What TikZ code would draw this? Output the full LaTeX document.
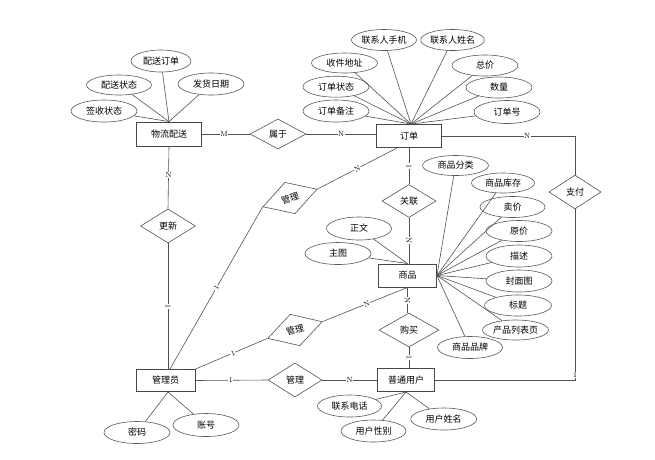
\documentclass[tikz,border=0pt]{standalone}
\usepackage{fontspec}
\newfontfamily\cjk{Noto Sans CJK SC}
\usetikzlibrary{shapes.geometric,calc}
\begin{document}
\begin{tikzpicture}[x=1pt,y=-1pt,
  every node/.style={font=\cjk\fontsize{9}{10}\selectfont, text=black},
  ent/.style={draw=black!72, line width=0.9pt, rectangle, minimum width=62, minimum height=23, inner sep=0, fill=white},
  rel/.style={draw=black!68, line width=0.6pt, diamond, minimum width=55, minimum height=33, inner sep=0, fill=white},
  attr/.style={draw=black!65, line width=0.6pt, ellipse, minimum width=66, minimum height=21, inner sep=0, fill=white},
  ln/.style={draw=black!68, line width=0.6pt},
  card/.style={font=\fontsize{7.5}{7.5}\selectfont, fill=white, inner sep=0.6pt, text=black}
]
\useasboundingbox (0,0) rectangle (655,459);

% entities
\node[ent, minimum width=65, minimum height=24] (wl) at (169,134) {物流配送};
\node[ent, minimum width=65] (dd) at (409,136) {订单};
\node[ent, minimum width=58] (sp) at (407.5,275.5) {商品};
\node[ent, minimum width=59, minimum height=22] (gly) at (165.5,380.5) {管理员};
\node[ent, minimum width=57] (yh) at (406,380) {普通用户};

% relationships
\node[rel, minimum width=56, minimum height=30] (sy) at (278,134) {属于};
\node[rel, minimum width=54] (gl) at (409,201) {关联};
\node[rel, minimum width=60, minimum height=34] (gm) at (409,330) {购买};
\node[rel, minimum height=34] (gx) at (168,226) {更新};
\node[rel, minimum width=57, rotate=18] (gla) at (290,198) {管理};
\node[rel, minimum width=57, rotate=17] (glb) at (295,330) {管理};
\node[rel, minimum width=54, minimum height=34] (glc) at (295,380) {管理};
\node[rel, minimum width=52, minimum height=34] (zf) at (575,192) {支付};

% attributes of 物流配送
\node[attr, minimum width=60, minimum height=22] (a1) at (161,61) {配送订单};
\node[attr, minimum width=65, minimum height=20] (a2) at (119,85) {配送状态};
\node[attr, minimum height=22] (a3) at (211,84) {发货日期};
\node[attr, minimum height=22] (a4) at (104,111) {签收状态};
\foreach \a in {a1,a2,a3,a4} \draw[ln] (\a) -- (wl.north);

% attributes of 订单
\coordinate (ddtop) at ([xshift=2]dd.north);
\node[attr, minimum width=65] (b1) at (384,40) {联系人手机};
\node[attr, minimum width=62] (b2) at (452.5,40) {联系人姓名};
\node[attr, minimum height=20] (b3) at (344.5,63) {收件地址};
\node[attr] (b4) at (485,65.5) {总价};
\node[attr] (b5) at (336,86.7) {订单状态};
\node[attr] (b6) at (499,87.5) {数量};
\node[attr, minimum height=22] (b7) at (336,111) {订单备注};
\node[attr, minimum height=23] (b8) at (507,112) {订单号};
\foreach \a in {b1,b2,b3,b4,b5,b6,b7,b8} \draw[ln] (\a) -- (ddtop);

% attributes of 商品
\node[attr, minimum height=20] (c1) at (455.5,165.5) {商品分类};
\node[attr, minimum width=63, minimum height=20] (c2) at (503,183) {商品库存};
\node[attr, minimum width=65] (c3) at (512.5,207) {卖价};
\node[attr] (c4) at (519,231) {原价};
\node[attr, minimum height=22] (c5) at (519,256) {描述};
\node[attr, minimum height=22] (c6) at (519,281) {封面图};
\node[attr, minimum width=67] (c7) at (518,305.5) {标题};
\node[attr, minimum height=20] (c8) at (515.5,330) {产品列表页};
\node[attr, minimum width=65, minimum height=22] (c9) at (470,347.5) {商品品牌};
\foreach \a in {c1,c2,c3,c4,c5,c6,c7,c8,c9} \draw[ln] (\a) -- (sp.east);
\node[attr, minimum width=65, minimum height=23] (c10) at (359,228.5) {正文};
\node[attr, minimum height=22] (c11) at (338,253.5) {主图};
\foreach \a in {c10,c11} \draw[ln] (\a) -- (sp.north);

% attributes of 普通用户
\node[attr, minimum width=64, minimum height=22] (d1) at (349.5,406) {联系电话};
\node[attr, minimum width=65, minimum height=22] (d2) at (373.5,431) {用户性别};
\node[attr, minimum height=22] (d3) at (443.7,419) {用户姓名};
\foreach \a in {d1,d2,d3} \draw[ln] (\a) -- (yh.south);

% attributes of 管理员
\coordinate (glybot) at ([xshift=2.5]gly.south);
\node[attr, minimum height=22] (e1) at (137,432.5) {密码};
\node[attr, minimum height=23] (e2) at (206,425) {账号};
\foreach \a in {e1,e2} \draw[ln] (\a) -- (glybot);

% connectors with cardinalities
\draw[ln] (wl.east) -- node[card, pos=0.46]{M} (sy.west);
\draw[ln] (sy.east) -- node[card]{N} (sy.east -| dd.west);
\draw[ln] (wl.south) -- node[card, pos=0.46]{N} (gx.north);
\draw[ln] (gx.south) -- node[card, sloped]{1} (gx.south |- gly.north);
\draw[ln] (dd.south) -- node[card, sloped]{1} (gl.north);
\draw[ln] (gl.south) -- node[card, sloped]{N} (gl.south |- sp.north);
\draw[ln] (sp.south) -- node[card, sloped]{N} (sp.south |- gm.north);
\draw[ln] (gm.south) -- node[card, sloped]{1} (gm.south |- yh.north);
\draw[ln] ([xshift=4.5]gly.north) -- node[card, sloped]{1} (gla.west);
\draw[ln] (gla.east) -- node[card, sloped]{N} ([xshift=21]dd.south west);
\draw[ln] (gly.north east) -- node[card, sloped, pos=0.52]{1} (glb.west);
\draw[ln] (glb.east) -- node[card, sloped, pos=0.52]{N} (sp.south);
\draw[ln] (gly.east) -- node[card, pos=0.49]{1} (glc.west);
\draw[ln] (glc.east) -- node[card]{N} (yh.west);
\draw[ln] (dd.east) -| node[card, pos=0.32]{N} (zf.north);
\draw[ln] (zf.south) |- node[card, pos=0.485]{1} (yh.east);
\end{tikzpicture}
\end{document}
